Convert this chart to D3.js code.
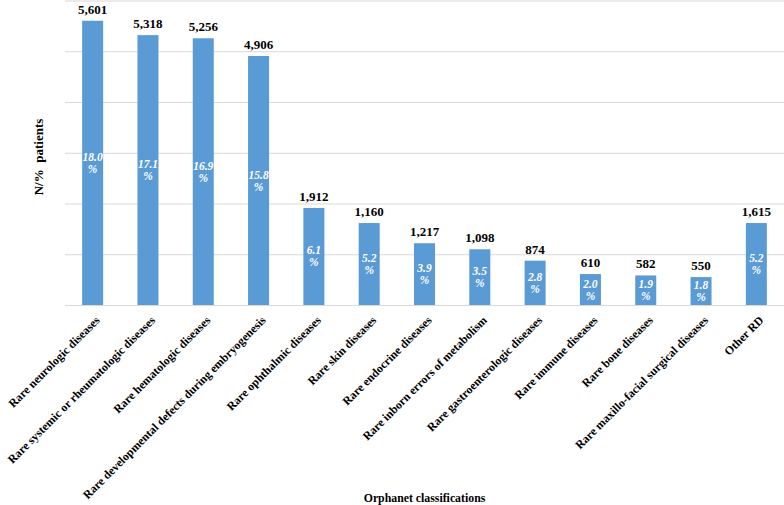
<!DOCTYPE html>
<html>
<head>
<meta charset="utf-8">
<script src="https://cdn.jsdelivr.net/npm/d3@7"></script>
<style>
  body { margin: 0; background: #fff; }
  text { font-family: "Liberation Serif", "Times New Roman", serif; }
</style>
</head>
<body>
<div id="chart"></div>
<script>
// Orphanet groups, bar values, printed labels and shares
const categories = [
  "Rare neurologic diseases",
  "Rare systemic or rheumatologic diseases",
  "Rare hematologic diseases",
  "Rare developmental defects during embryogenesis",
  "Rare ophthalmic diseases",
  "Rare skin diseases",
  "Rare endocrine diseases",
  "Rare inborn errors of metabolism",
  "Rare gastroenterologic diseases",
  "Rare immune diseases",
  "Rare bone diseases",
  "Rare maxillo-facial surgical diseases",
  "Other RD"
];
const values = [5601, 5318, 5256, 4906, 1912, 1615, 1217, 1098, 874, 610, 582, 550, 1615];
const valueLabels = ["5,601", "5,318", "5,256", "4,906", "1,912", "1,160", "1,217", "1,098", "874", "610", "582", "550", "1,615"];
const percents = ["18.0", "17.1", "16.9", "15.8", "6.1", "5.2", "3.9", "3.5", "2.8", "2.0", "1.9", "1.8", "5.2"];
const yTicks = [0, 1000, 2000, 3000, 4000, 5000, 6000];

const width = 784, height = 505;
const mLeft = 65, mRight = 784, mTop = 0.5, mBottom = 305;

const svg = d3.select("#chart")
  .append("svg")
  .attr("width", width)
  .attr("height", height);

const x = d3.scaleBand()
  .domain(categories)
  .range([mLeft, mRight])
  .paddingInner(0.62)
  .paddingOuter(0.31);

const y = d3.scaleLinear()
  .domain([0, 6000])
  .range([mBottom, mTop]);

// gridlines
svg.append("g")
  .attr("transform", `translate(${mLeft},0)`)
  .call(d3.axisLeft(y).tickValues(yTicks).tickSize(-(mRight - mLeft)).tickFormat(""))
  .call(g => g.select(".domain").remove())
  .call(g => g.selectAll("line").attr("stroke", "#d9d9d9").attr("stroke-width", 1));

// bars
svg.selectAll("rect.bar")
  .data(values)
  .enter()
  .append("rect")
  .attr("class", "bar")
  .attr("x", (d, i) => x(categories[i]))
  .attr("y", d => y(d))
  .attr("width", x.bandwidth())
  .attr("height", d => mBottom - y(d))
  .attr("fill", "#5b9bd5");

// value labels above bars
svg.selectAll("text.val")
  .data(values)
  .enter()
  .append("text")
  .attr("class", "val")
  .attr("x", (d, i) => x(categories[i]) + x.bandwidth() / 2)
  .attr("y", d => y(d) - 7)
  .attr("text-anchor", "middle")
  .attr("font-size", "13px")
  .attr("font-weight", "bold")
  .text((d, i) => valueLabels[i]);

// percent labels inside bars, two lines
const pct = svg.selectAll("text.pct")
  .data(values)
  .enter()
  .append("text")
  .attr("class", "pct")
  .attr("text-anchor", "middle")
  .attr("font-size", "11.5px")
  .attr("font-weight", "bold")
  .attr("font-style", "italic")
  .attr("fill", "#fff")
  .attr("transform", (d, i) => `translate(${x(categories[i]) + x.bandwidth() / 2},${(y(d) + mBottom) / 2})`);
pct.append("tspan").attr("x", 0).attr("y", -2).text((d, i) => percents[i]);
pct.append("tspan").attr("x", 0).attr("y", 10).text("%");

// x axis labels
svg.append("g")
  .attr("transform", `translate(0,${mBottom})`)
  .call(d3.axisBottom(x).tickSize(0).tickPadding(0))
  .call(g => g.select(".domain").remove())
  .selectAll("text")
  .attr("font-family", "Liberation Serif, serif")
  .attr("font-size", "11.8px")
  .attr("font-weight", "bold")
  .attr("fill", "#000")
  .attr("text-anchor", "end")
  .attr("y", 0)
  .attr("dy", "0.35em")
  .attr("transform", "translate(5,13) rotate(-45)");

// axis titles
svg.append("text")
  .attr("transform", "translate(43,157) rotate(-90)")
  .attr("text-anchor", "middle")
  .attr("font-size", "13px")
  .attr("font-weight", "bold")
  .style("white-space", "pre")
  .text("N/%  patients");

svg.append("text")
  .attr("x", (mLeft + mRight) / 2)
  .attr("y", 502)
  .attr("text-anchor", "middle")
  .attr("font-size", "11.8px")
  .attr("font-weight", "bold")
  .text("Orphanet classifications");
</script>
</body>
</html>
